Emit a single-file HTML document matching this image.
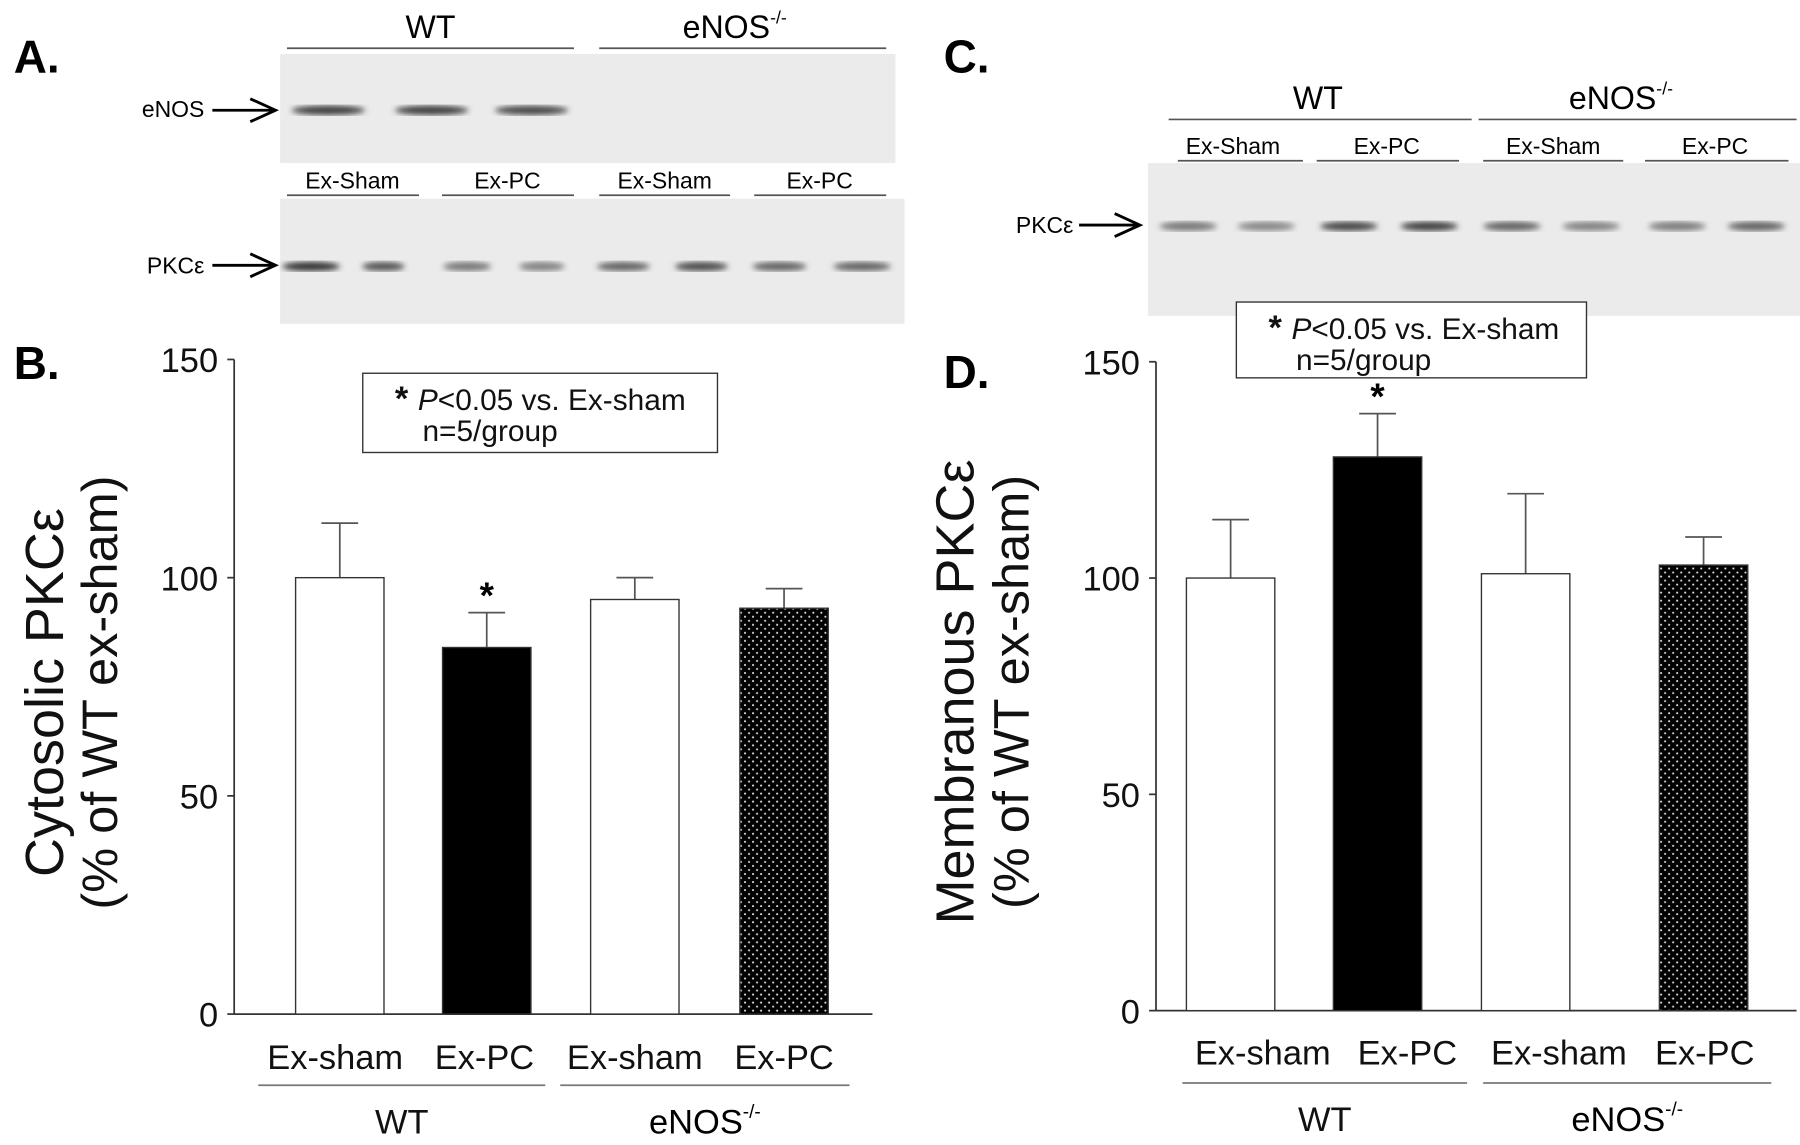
<!DOCTYPE html>
<html><head><meta charset="utf-8"><style>
html,body{margin:0;padding:0;background:#fff;}
svg{display:block;font-family:"Liberation Sans",Arial,sans-serif;}
</style></head><body>
<svg id="fig" width="1800" height="1145" viewBox="0 0 1568 997" preserveAspectRatio="none">
<defs>
<pattern id="dots" width="7" height="7" patternUnits="userSpaceOnUse">
<rect width="7" height="7" fill="#000"/>
<circle cx="1.5" cy="1.5" r="0.9" fill="#ddd"/>
<circle cx="5" cy="5" r="0.9" fill="#ddd"/>
</pattern>
<filter id="blur"><feGaussianBlur stdDeviation="2.5"/></filter>
</defs>
<g id="blots"></g>
<g id="chartB"></g>
<g id="chartD"></g>
</svg>
<script>
const categories = ["Ex-sham","Ex-PC","Ex-sham","Ex-PC"];
const groups = ["WT","eNOS"];
const cytoValues = [100, 84, 95, 93];
const cytoErrors = [12.5, 8, 5, 4.5];
const membValues = [100, 128, 101, 103];
const membErrors = [13.5, 10, 18.5, 6.5];
const yTicks = [0, 50, 100, 150];
const fills = ["#fff","#000","#fff","url(#dots)"];

const NS="http://www.w3.org/2000/svg";
function mk(tag, attrs, parent, text){
  const e=document.createElementNS(NS,tag);
  for(const k in attrs) e.setAttribute(k, attrs[k]);
  if(text!==undefined) e.textContent=text;
  parent.appendChild(e); return e;
}
function txt(parent,x,y,s,size,name,anchor,extra){
  const t=mk('text',Object.assign({x:x,y:y,'font-size':size,'text-anchor':anchor||'middle',fill:'#000'},extra||{}),parent,s);
  
  
  return t;
}
function enos(parent,x,y,size,name){
  const t=mk('text',{x:x,y:y,'font-size':size,'text-anchor':'middle',fill:'#000'},parent);
  
  
  mk('tspan',{},t,'eNOS');
  mk('tspan',{'font-size':size*0.55,dy:-size*0.45},t,'-/-');
  return t;
}
function line(parent,x1,y1,x2,y2,name,w,c){
  const l=mk('line',{x1:x1,y1:y1,x2:x2,y2:y2,stroke:c||'#555','stroke-width':w||1.5},parent);
  
  
  return l;
}

const B=document.getElementById('blots');
txt(B,12,63,'A.',40,'panel-a-label','start',{'font-weight':'bold'});
txt(B,822,63,'C.',40,'panel-c-label','start',{'font-weight':'bold'});
txt(B,375,33,'WT',28,'blot-a-wt-label');
enos(B,640,33,28,'blot-a-enos-label');
line(B,250,42,500,42,'blot-a-wt-line');
line(B,522,42,772,42,'blot-a-enos-line');
function blot(x,y,w,h,name){const r=mk('rect',{x:x,y:y,width:w,height:h,fill:'#ebebeb'},B);}
function band(cx,y,w,dark,name){const e=mk('ellipse',{cx:cx,cy:y,rx:w/2,ry:4,fill:'rgb('+dark+','+dark+','+dark+')',filter:'url(#blur)'},B);}
function arrow(x1,x2,y,name){
  const g=mk('g',{},B);
  mk('line',{x1:x1,y1:y,x2:x2,y2:y,stroke:'#000','stroke-width':2.5},g);
  mk('polyline',{points:(x2-22)+','+(y-10)+' '+x2+','+y+' '+(x2-22)+','+(y+10),fill:'none',stroke:'#000','stroke-width':2.5},g);
}
blot(244,47,536,95,'blot-enos');
txt(B,178,102,'eNOS',20,'enos-band-label','end');
arrow(185,240,96,'enos-arrow');
[[286,60],[376,60],[463,70]].forEach((b,i)=>band(b[0],96,64,b[1],'enos-band-'+i));
const subA=[[307,250,365],[442,385,500],[579,522,636],[714,657,772]];
subA.forEach((s,i)=>{txt(B,s[0],164,i%2?'Ex-PC':'Ex-Sham',20,'blot-a-sub-'+i);line(B,s[1],170,s[2],170,'blot-a-subline-'+i);});
blot(244,173,544,109,'blot-pkc-cyto');
txt(B,178,238,'PKCε',20,'pkc-a-label','end');
arrow(185,240,231,'pkc-a-arrow');
[[271,50,50],[334,37,85],[407,42,120],[472,40,130],[543,46,100],[611,46,75],[679,47,100],[751,50,100]].forEach((b,i)=>band(b[0],232,b[1],b[2],'pkc-a-band-'+i));
txt(B,1148,95,'WT',28,'blot-c-wt-label');
enos(B,1412,95,28,'blot-c-enos-label');
line(B,1018,104,1282,104,'blot-c-wt-line');
line(B,1288,104,1565,104,'blot-c-enos-line');
const subC=[[1074,1026,1135],[1208,1147,1271],[1353,1292,1414],[1494,1433,1558]];
subC.forEach((s,i)=>{txt(B,s[0],134,i%2?'Ex-PC':'Ex-Sham',20,'blot-c-sub-'+i);line(B,s[1],140,s[2],140,'blot-c-subline-'+i);});
blot(1000,142,568,133,'blot-pkc-memb');
txt(B,935,203,'PKCε',20,'pkc-c-label','end');
arrow(940,993,196,'pkc-c-arrow');
[[1035,120],[1103,135],[1175,70],[1245,65],[1317,100],[1386,130],[1461,125],[1530,100]].forEach((b,i)=>band(b[0],197,50,b[1],'pkc-c-band-'+i));

function chart(gid, o, values, errors, title){
  const G=document.getElementById(gid);
  const y=v=>o.y0-(v/150)*(o.y0-o.y150);
  const xc=i=>o.barX[i];
  txt(G,o.panelX,o.panelY,o.panel,40,gid+'-panel-label','start',{'font-weight':'bold'});
  line(G,o.ax,o.y150,o.ax,o.y0,'y-axis',1.5,'#333');
  line(G,o.ax,o.y0,o.axEnd,o.y0,'x-axis',1.5,'#333');
  yTicks.forEach(t=>{
    line(G,o.ax-6,y(t),o.ax,y(t),'y-tick-'+t,1.5,'#333');
    txt(G,o.ax-14,y(t)+11,String(t),30,'y-tick-label-'+t,'end',{fill:'#111'});
  });
  values.forEach((v,i)=>{
    const top=y(v+errors[i]);
    line(G,xc(i),y(v),xc(i),top,'error-bar-'+i,1.5,'#555');
    line(G,xc(i)-16,top,xc(i)+16,top,'error-cap-'+i,1.5,'#555');
    const r=mk('rect',{x:xc(i)-o.bw/2,y:y(v),width:o.bw,height:o.y0-y(v),fill:fills[i],stroke:'#333','stroke-width':1.2},G);
    
    
    txt(G,o.labX[i],o.labelY,categories[i],30,'category-label-'+i,'middle',{fill:'#111'});
  });
  txt(G,xc(1),y(values[1]+errors[1])-4,'*',32,'significance-star','middle',{'font-weight':'bold'});
  line(G,o.g1[0],o.lineY,o.g1[1],o.lineY,'group-line-wt',1.5,'#777');
  line(G,o.g2[0],o.lineY,o.g2[1],o.lineY,'group-line-enos',1.5,'#777');
  txt(G,(o.g1[0]+o.g1[1])/2,o.lineY+42,groups[0],30,'group-label-wt','middle',{fill:'#111'});
  enos(G,(o.g2[0]+o.g2[1])/2,o.lineY+42,30,'group-label-enos');
  const lb=mk('rect',{x:o.lg[0],y:o.lg[1],width:o.lg[2],height:o.lg[3],fill:'#fff',stroke:'#333','stroke-width':1.2},G);
  
  
  const lt=txt(G,o.lg[0]+28,o.lg[1]+32,'',26,'legend-significance','start',{fill:'#111'});
  mk('tspan',{'font-weight':'bold','font-size':30},lt,'* ');
  mk('tspan',{'font-style':'italic'},lt,'P');
  mk('tspan',{},lt,'<0.05 vs. Ex-sham');
  txt(G,o.lg[0]+52,o.lg[1]+59,'n=5/group',26,'legend-n','start',{fill:'#111'});
  const cy=(o.y150+o.y0)/2+5;
  txt(G,0,0,title,47,'y-axis-title','middle',{transform:'translate('+o.t1+','+cy+') rotate(-90)',fill:'#111'});
  txt(G,0,0,'(% of WT ex-sham)',44,'y-axis-subtitle','middle',{transform:'translate('+o.t2+','+cy+') rotate(-90)',fill:'#111'});
}
chart('chartB',{panel:'B.',panelX:12,panelY:330,ax:204,axEnd:760,y150:313,y0:883,barX:[296,424,553,683],labX:[292,422,553,683],bw:77,labelY:931,lineY:945,g1:[225,475],g2:[488,740],lg:[316,325,309,69],t1:55,t2:102},cytoValues,cytoErrors,'Cytosolic PKCε');
chart('chartD',{panel:'D.',panelX:822,panelY:338,ax:1007,axEnd:1565,y150:315,y0:880,barX:[1072,1200,1329,1484],labX:[1100,1226,1358,1485],bw:77,labelY:927,lineY:943,g1:[1030,1278],g2:[1292,1543],lg:[1077,263,305,66],t1:848,t2:896},membValues,membErrors,'Membranous PKCε');
</script>
</body></html>
